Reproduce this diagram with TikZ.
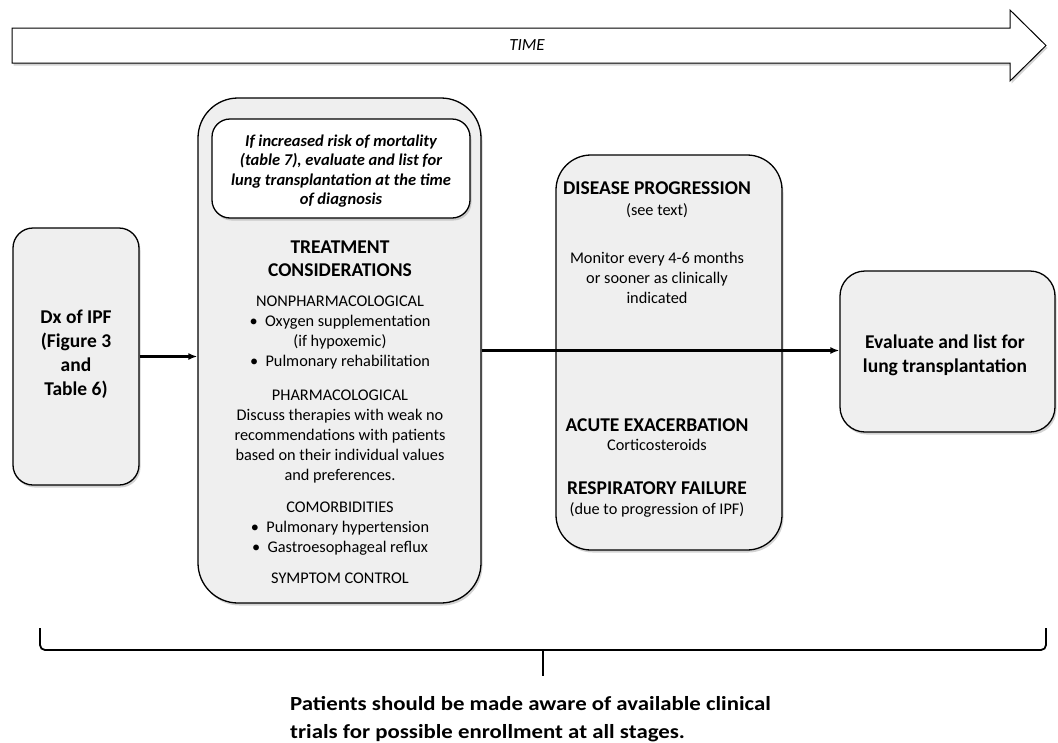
\documentclass[tikz,border=0pt]{standalone}
\usepackage{fontspec}
\setmainfont{Carlito}
\newfontfamily\widefont[FakeStretch=1.14]{Carlito}
\usetikzlibrary{shadows,arrows.meta}
\definecolor{boxgray}{HTML}{EFEFEF}
\begin{document}
\begin{tikzpicture}[x=1pt,y=-1pt,
  box/.style={draw, line width=1.3pt, fill=boxgray, rounded corners=#1, inner sep=0pt,
    drop shadow={shadow xshift=1.5pt, shadow yshift=-2.5pt, opacity=0.35}},
  txt/.style={align=center, inner sep=0pt, font=\fontsize{16.3}{20}\selectfont},
  hd/.style={align=center, inner sep=0pt, font=\bfseries\fontsize{19.5}{23}\selectfont},
  conn/.style={line width=2.3pt, -{Latex[length=9pt,width=7pt]}}
]
\useasboundingbox (0,0) rectangle (1058,742);

% time arrow
\draw[line width=1pt, fill=white, drop shadow={shadow xshift=1.5pt, shadow yshift=-2.5pt, opacity=0.35}]
  (12,28) -- (1010,28) -- (1010,10) -- (1046,45.5) -- (1010,81) -- (1010,63) -- (12,63) -- cycle;
\node[txt, font=\itshape\fontsize{17}{17}\selectfont] (time) at (527,45.5) {TIME};

% boxes
\node[box=20pt, minimum width=126pt, minimum height=257pt] (dx) at (76,356.5) {};
\node[box=40pt, minimum width=283pt, minimum height=505pt] (treat) at (339.5,350.5) {};
\node[box=18pt, fill=white, minimum width=258pt, minimum height=99pt] (risk) at (341,168.5) {};
\node[box=35pt, minimum width=226pt, minimum height=395pt] (prog) at (669,352.5) {};
\node[box=25pt, minimum width=215pt, minimum height=161pt] (evalbox) at (947.5,351.5) {};

% connectors
\draw[conn] (dx.east) -- (dx.east -| treat.west);
\draw[conn] (treat.east) -- (treat.east -| evalbox.west);

% left box text
\node[hd, font=\bfseries\fontsize{19.5}{24}\selectfont] (dxt) at (76,354) {Dx of IPF\\(Figure 3\\and\\Table 6)};

% inner white box text
\node[txt, font=\bfseries\itshape\fontsize{16.5}{19.5}\selectfont] (riskt) at (341,171)
  {If increased risk of mortality\\(table 7), evaluate and list for\\lung transplantation at the time\\of diagnosis};

% treatment text
\node[hd] (tc) at (340,258.5) {TREATMENT\\CONSIDERATIONS};
\node[txt] (nonph) at (340,332.5) {NONPHARMACOLOGICAL\\\textbullet\ \ Oxygen supplementation\\(if hypoxemic)\\\textbullet\ \ Pulmonary rehabilitation};
\node[txt] (pharm) at (340,436.5) {PHARMACOLOGICAL\\Discuss therapies with weak no\\recommendations with patients\\based on their individual values\\and preferences.};
\node[txt] (comorb) at (340,528.5) {COMORBIDITIES\\\textbullet\ \ Pulmonary hypertension\\\textbullet\ \ Gastroesophageal reflux};
\node[txt] (sympt) at (340,578) {SYMPTOM CONTROL};

% middle box text
\node[hd] (dp) at (657,188) {DISEASE PROGRESSION};
\node[txt] (see) at (657,211) {(see text)};
\node[txt] (mon) at (657,278) {Monitor every 4-6 months\\or sooner as clinically\\indicated};
\node[hd] (ae) at (657,425) {ACUTE EXACERBATION};
\node[txt] (cort) at (657,445) {Corticosteroids};
\node[hd] (rf) at (657,488) {RESPIRATORY FAILURE};
\node[txt] (due) at (657,510) {(due to progression of IPF)};

% right box text
\node[hd, font=\bfseries\fontsize{19.5}{24}\selectfont] (evalt) at (945,355) {Evaluate and list for\\lung transplantation};

% brace
\coordinate (bl) at (40,628);
\coordinate (br) at (1046,628);
\coordinate (bm) at (543,650);
\coordinate (bt) at (543,676);
\draw[line width=1.8pt, rounded corners=5pt] (bl) -- (40,650) -- (1046,650) -- (br);
\draw[line width=1.8pt] (bm) -- (bt);

% bottom note
\node[anchor=west, align=left, inner sep=0pt, font=\widefont\bfseries\fontsize{20}{28}\selectfont] (note) at (290,719)
  {Patients should be made aware of available clinical\\trials for possible enrollment at all stages.};
\end{tikzpicture}
\end{document}
